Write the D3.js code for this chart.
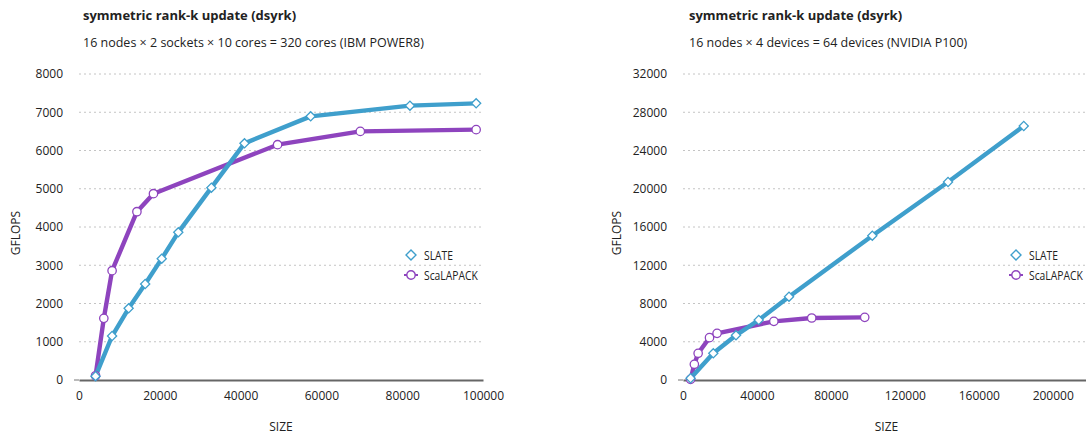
<!DOCTYPE html>
<html>
<head>
<meta charset="utf-8">
<script src="https://cdn.jsdelivr.net/npm/d3@7"></script>
<style>
  html, body { margin: 0; padding: 0; background: #fff; }
  svg text { font-family: "Open Sans", "Noto Sans", sans-serif; fill: #222; }
</style>
</head>
<body>
<svg id="chart" width="1086" height="435"></svg>
<script>
// Matrix sizes (n) and measured GFLOPS for dsyrk
const cpuSlateSizes  = [4096, 8192, 12288, 16384, 20480, 24576, 32768, 40960, 57344, 81920, 98304];
const cpuSlateGflops = [100, 1150, 1873, 2510, 3172, 3860, 5028, 6187, 6893, 7172, 7233];

const cpuScaSizes  = [4096, 6144, 8192, 14336, 18432, 49152, 69632, 98304];
const cpuScaGflops = [110, 1612, 2858, 4400, 4871, 6152, 6500, 6545];

const gpuSlateSizes  = [4096, 16384, 28672, 40960, 57344, 102400, 143360, 184320];
const gpuSlateGflops = [180, 2792, 4674, 6275, 8711, 15090, 20706, 26562];

const gpuScaSizes  = [4096, 6144, 8192, 14336, 18432, 49152, 69632, 98304];
const gpuScaGflops = [70, 1640, 2790, 4427, 4880, 6135, 6485, 6552];

const cpuYTicks = [0, 1000, 2000, 3000, 4000, 5000, 6000, 7000, 8000];
const cpuXTicks = [0, 20000, 40000, 60000, 80000, 100000];
const gpuYTicks = [0, 4000, 8000, 12000, 16000, 20000, 24000, 28000, 32000];
const gpuXTicks = [0, 40000, 80000, 120000, 160000, 200000];

const seriesNames = ["SLATE", "ScaLAPACK"];
const titleText = "symmetric rank-k update (dsyrk)";
const cpuSubtitle = "16 nodes × 2 sockets × 10 cores = 320 cores (IBM POWER8)";
const gpuSubtitle = "16 nodes × 4 devices = 64 devices (NVIDIA P100)";

const BLUE = "#3f9fcc";
const PURPLE = "#8e44be";

const svg = d3.select("#chart");

function zip(xs, ys) { return xs.map((x, i) => ({ x, y: ys[i] })); }

function panel(opts) {
  const g = svg.append("g");
  const x = d3.scaleLinear().domain(opts.xDomain).range([opts.left, opts.right]);
  const y = d3.scaleLinear().domain(opts.yDomain).range([380, 74]);

  // titles
  g.append("text").attr("x", opts.titleX).attr("y", 20)
    .style("font-size", "13px").style("font-weight", "700").text(titleText);
  g.append("text").attr("x", opts.titleX).attr("y", 47)
    .style("font-size", "12.5px").text(opts.subtitle);

  // dotted gridlines
  g.append("g").selectAll("line").data(opts.yTicks.filter(d => d > 0)).join("line")
    .attr("x1", x.range()[0]).attr("x2", x.range()[1])
    .attr("y1", d => y(d)).attr("y2", d => y(d))
    .attr("stroke", "#c4c4c4").attr("stroke-width", 1).attr("stroke-dasharray", "2,3");

  // y axis labels
  const yAxis = d3.axisLeft(y).tickValues(opts.yTicks).tickSize(0).tickPadding(16).tickFormat(d3.format("d"));
  const ya = g.append("g").attr("transform", `translate(${x.range()[0]},0)`).call(yAxis);
  ya.select(".domain").remove();
  ya.selectAll("text").style("font-size", "12px").style("font-family", "'Open Sans', sans-serif").attr("fill", "#222");

  // short tick at zero
  g.append("line").attr("x1", x.range()[0] - 5).attr("x2", x.range()[0])
    .attr("y1", y(0)).attr("y2", y(0)).attr("stroke", "#777").attr("stroke-width", 1);

  // x axis
  const xAxis = d3.axisBottom(x).tickValues(opts.xTicks).tickSize(0).tickPadding(11).tickFormat(d3.format("d"));
  const xa = g.append("g").attr("transform", `translate(0,${y(0)})`).call(xAxis);
  xa.select(".domain").attr("stroke", "#666").attr("stroke-width", 2);
  xa.selectAll("text").style("font-size", "12px").style("font-family", "'Open Sans', sans-serif").attr("fill", "#222");

  // axis titles
  g.append("text").attr("x", (x.range()[0] + x.range()[1]) / 2 - opts.sizeShift).attr("y", 431)
    .attr("text-anchor", "middle").style("font-size", "12px").text("SIZE");
  g.append("text").attr("transform", `translate(${opts.gflopsX},${y(opts.yDomain[1] / 2) + 6}) rotate(-90)`)
    .attr("text-anchor", "middle").style("font-size", "12px").text("GFLOPS");

  const line = d3.line().x(d => x(d.x)).y(d => y(d.y));
  const diamond = d3.symbol().type(d3.symbolSquare).size(42);

  // ScaLAPACK first (SLATE drawn over it)
  const sca = zip(opts.scaX, opts.scaY);
  g.append("path").datum(sca).attr("d", line).attr("fill", "none")
    .attr("stroke", PURPLE).attr("stroke-width", 4.4).attr("stroke-linejoin", "round");
  const slate = zip(opts.slateX, opts.slateY);
  g.append("path").datum(slate).attr("d", line).attr("fill", "none")
    .attr("stroke", BLUE).attr("stroke-width", 4.4).attr("stroke-linejoin", "round");

  g.append("g").selectAll("circle").data(sca).join("circle")
    .attr("cx", d => x(d.x)).attr("cy", d => y(d.y)).attr("r", 4.2)
    .attr("fill", "#fff").attr("stroke", PURPLE).attr("stroke-width", 1.3);
  g.append("g").selectAll("path").data(slate).join("path")
    .attr("d", diamond)
    .attr("transform", d => `translate(${x(d.x)},${y(d.y)}) rotate(45)`)
    .attr("fill", "#fff").attr("stroke", BLUE).attr("stroke-width", 1.3);

  // legend (labels slightly condensed)
  const lg = g.append("g").attr("transform", `translate(${opts.legendX},255)`);
  lg.append("path").attr("d", d3.symbol().type(d3.symbolSquare).size(50))
    .attr("transform", "rotate(45)").attr("fill", "#fff").attr("stroke", BLUE).attr("stroke-width", 1.4);
  lg.append("text").attr("transform", "translate(13,4.5) scale(0.86,1)").style("font-size", "12px").text(seriesNames[0]);
  lg.append("line").attr("x1", -7).attr("x2", 7).attr("y1", 20).attr("y2", 20)
    .attr("stroke", PURPLE).attr("stroke-width", 2);
  lg.append("circle").attr("cx", 0).attr("cy", 20).attr("r", 4.2)
    .attr("fill", "#fff").attr("stroke", PURPLE).attr("stroke-width", 1.4);
  lg.append("text").attr("transform", "translate(13,24.5) scale(0.86,1)").style("font-size", "12px").text(seriesNames[1]);
}

panel({
  xDomain: [0, 100000], left: 79, right: 483, yDomain: [0, 8000],
  yTicks: cpuYTicks, xTicks: cpuXTicks, titleX: 83, subtitle: cpuSubtitle,
  slateX: cpuSlateSizes, slateY: cpuSlateGflops, scaX: cpuScaSizes, scaY: cpuScaGflops,
  legendX: 411, gflopsX: 20, sizeShift: 0
});

panel({
  xDomain: [0, 218000], left: 683, right: 1086, yDomain: [0, 32000],
  yTicks: gpuYTicks, xTicks: gpuXTicks, titleX: 689, subtitle: gpuSubtitle,
  slateX: gpuSlateSizes, slateY: gpuSlateGflops, scaX: gpuScaSizes, scaY: gpuScaGflops,
  legendX: 1016, gflopsX: 621, sizeShift: -2
});
</script>
</body>
</html>
